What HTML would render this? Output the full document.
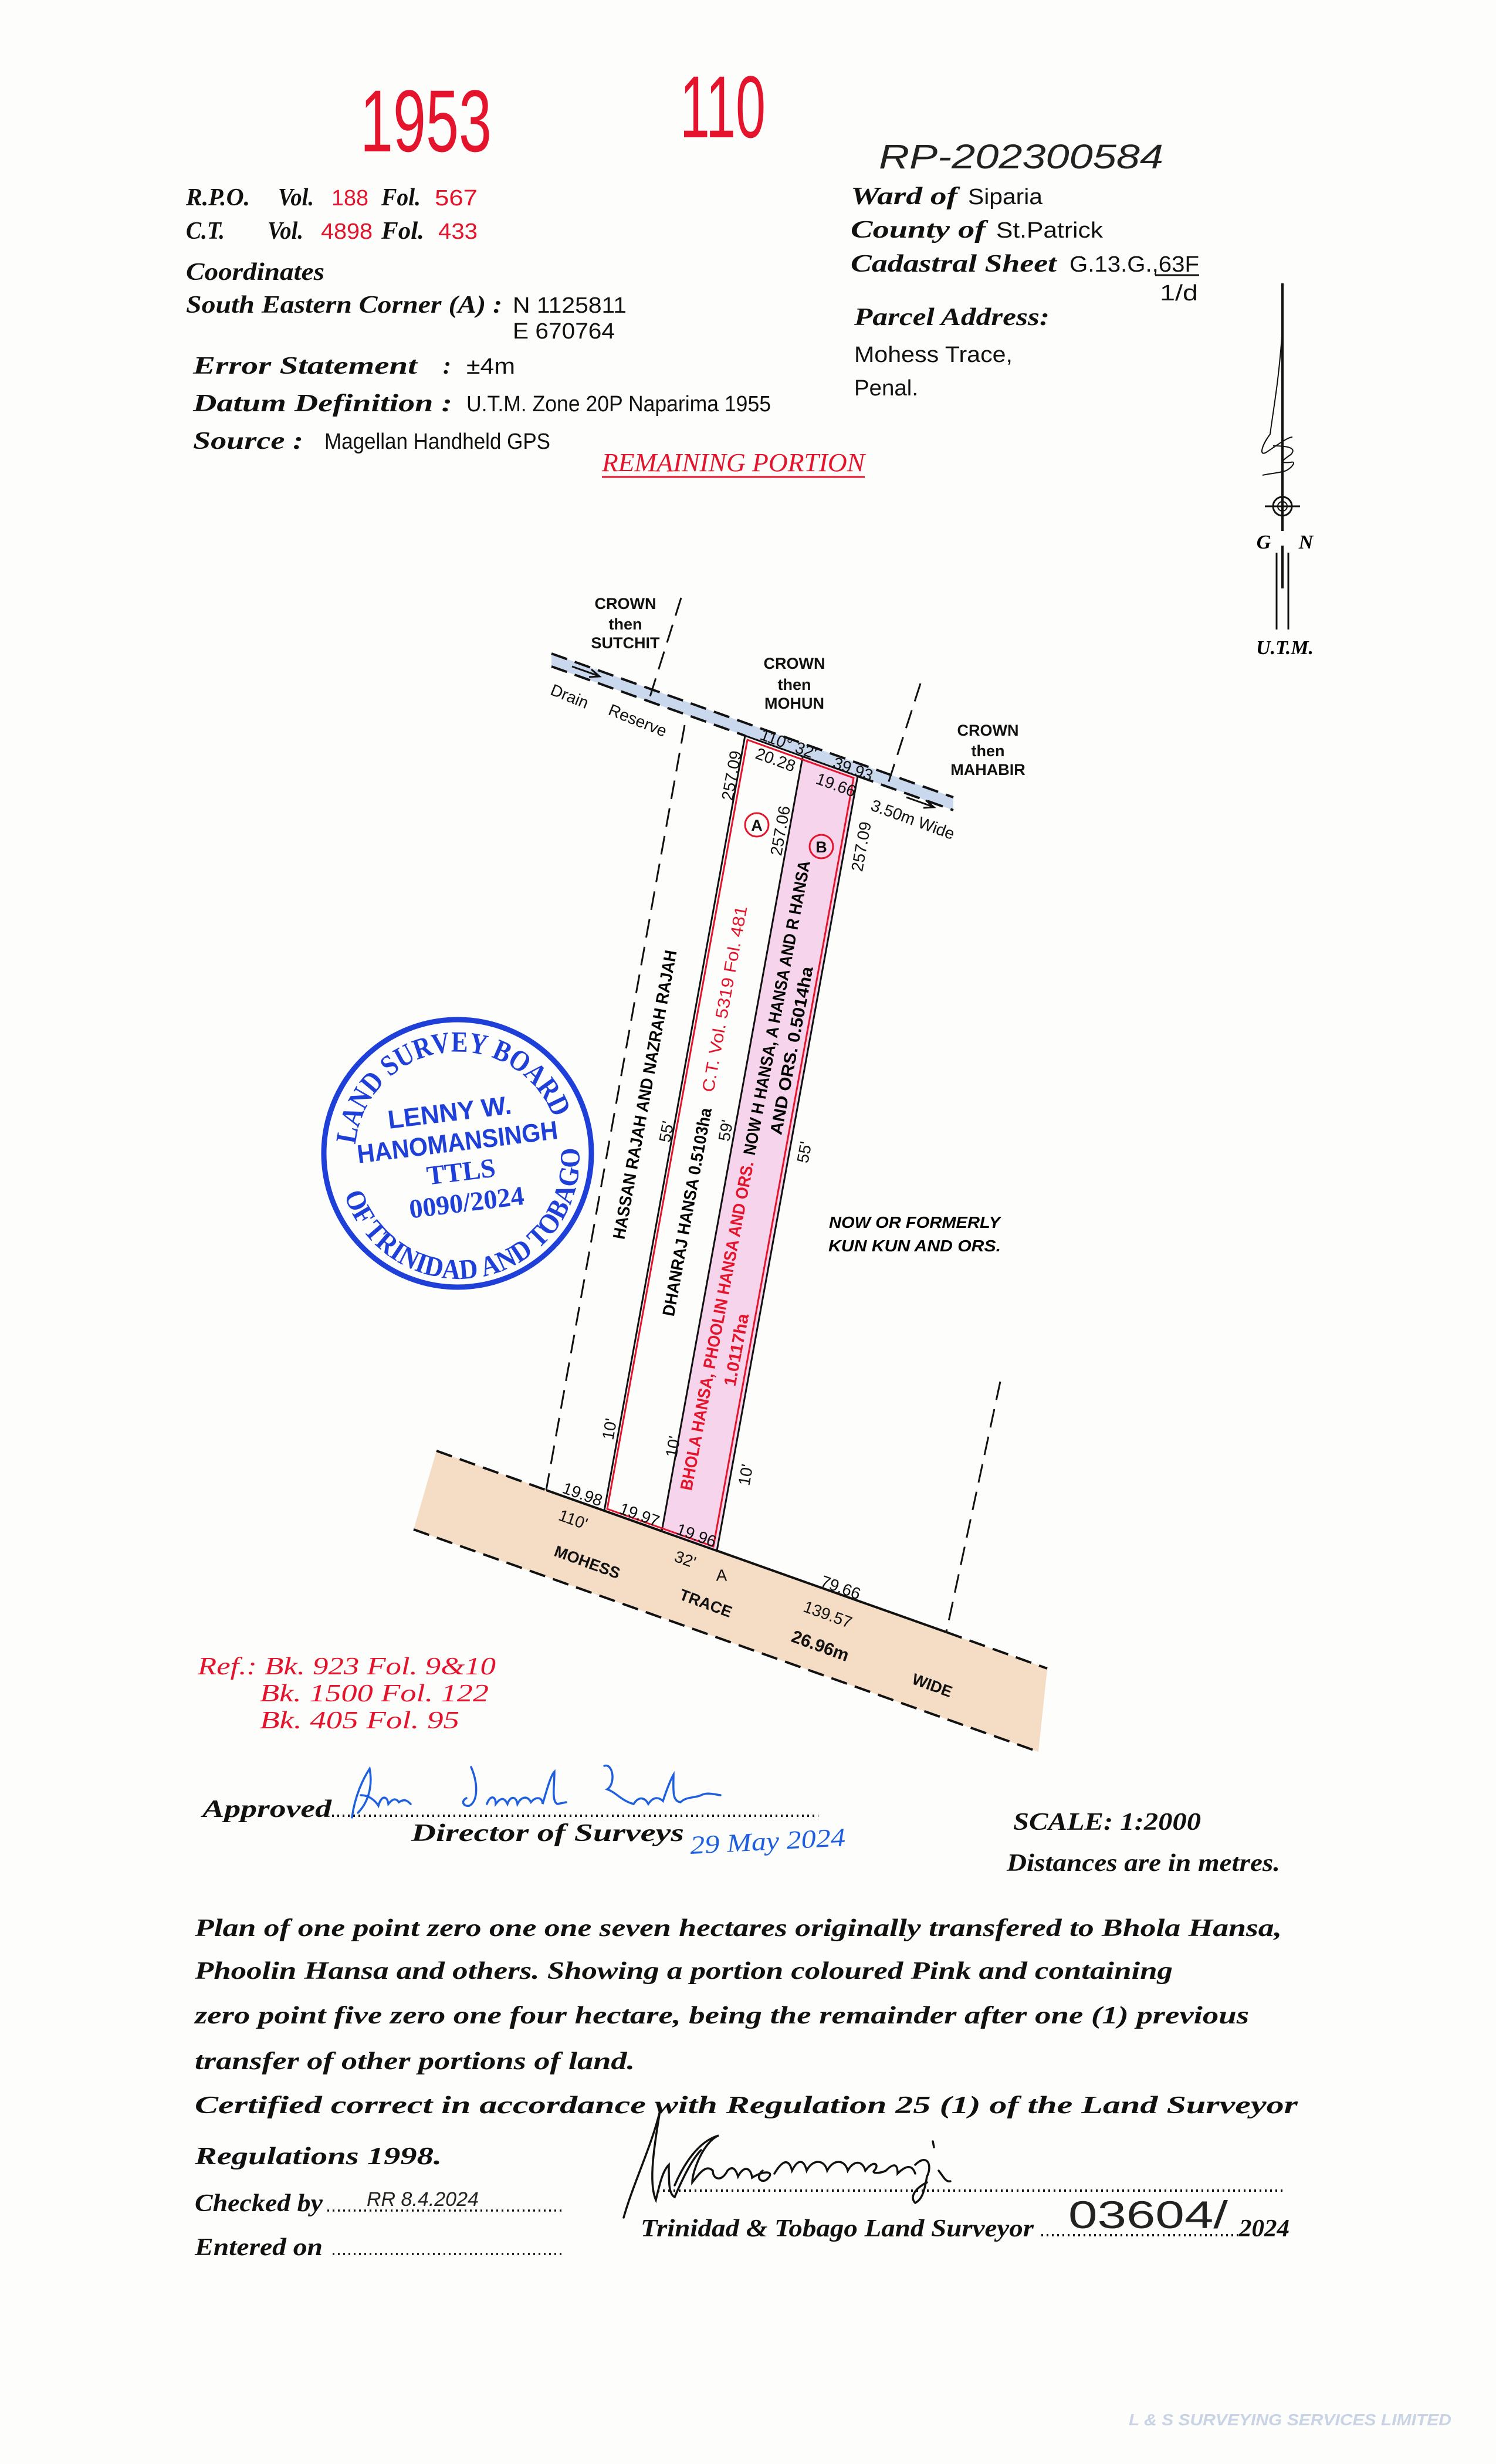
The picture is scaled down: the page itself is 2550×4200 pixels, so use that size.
<!DOCTYPE html>
<html><head><meta charset="utf-8"><style>
html,body{margin:0;padding:0;background:#fdfdfb}
svg{display:block}
.lb{font-family:"Liberation Serif",serif;font-style:italic;font-weight:bold;font-size:42px;fill:#111}
.vl{font-family:"Liberation Sans",sans-serif;font-size:38px;fill:#111}
.rd{fill:#e3142c}
.dl{font-family:"Liberation Sans",sans-serif;font-weight:bold;font-size:27px;fill:#111}
.dn{font-family:"Liberation Sans",sans-serif;font-size:28px;fill:#111}
.ft{font-family:"Liberation Serif",serif;font-style:italic;font-weight:bold;font-size:42px;fill:#111}
</style></head><body>
<svg width="2550" height="4200" viewBox="0 0 2550 4200" xmlns="http://www.w3.org/2000/svg">
<rect width="2550" height="4200" fill="#fdfdfb"/>

<!-- Big red numbers -->
<text x="614" y="258" class="rd" font-family="Liberation Sans, sans-serif" font-size="150" textLength="224" lengthAdjust="spacingAndGlyphs">1953</text>
<text x="1159" y="234" class="rd" font-family="Liberation Sans, sans-serif" font-size="150" textLength="146" lengthAdjust="spacingAndGlyphs">110</text>
<text x="1498" y="287" font-family="Liberation Sans, sans-serif" font-style="italic" font-size="58" fill="#222" textLength="485" lengthAdjust="spacingAndGlyphs">RP-202300584</text>

<!-- Left header -->
<text x="317" y="350" class="lb" textLength="109" lengthAdjust="spacingAndGlyphs">R.P.O.</text>
<text x="474" y="350" class="lb" textLength="61" lengthAdjust="spacingAndGlyphs">Vol.</text>
<text x="565" y="350" class="vl rd" textLength="63" lengthAdjust="spacingAndGlyphs">188</text>
<text x="650" y="350" class="lb" textLength="67" lengthAdjust="spacingAndGlyphs">Fol.</text>
<text x="741" y="350" class="vl rd" textLength="73" lengthAdjust="spacingAndGlyphs">567</text>

<text x="317" y="407" class="lb" textLength="66" lengthAdjust="spacingAndGlyphs">C.T.</text>
<text x="456" y="407" class="lb" textLength="61" lengthAdjust="spacingAndGlyphs">Vol.</text>
<text x="547" y="407" class="vl rd" textLength="88" lengthAdjust="spacingAndGlyphs">4898</text>
<text x="650" y="407" class="lb" textLength="73" lengthAdjust="spacingAndGlyphs">Fol.</text>
<text x="747" y="407" class="vl rd" textLength="67" lengthAdjust="spacingAndGlyphs">433</text>

<text x="317" y="477" class="lb" textLength="236" lengthAdjust="spacingAndGlyphs">Coordinates</text>
<text x="317" y="533" class="lb" textLength="539" lengthAdjust="spacingAndGlyphs">South Eastern Corner (A) :</text>
<text x="874" y="533" class="vl" textLength="194" lengthAdjust="spacingAndGlyphs">N 1125811</text>
<text x="874" y="577" class="vl" textLength="174" lengthAdjust="spacingAndGlyphs">E 670764</text>
<text x="329" y="637" class="lb" textLength="382" lengthAdjust="spacingAndGlyphs">Error Statement</text>
<text x="755" y="637" class="lb">:</text>
<text x="795" y="637" class="vl" textLength="83" lengthAdjust="spacingAndGlyphs">±4m</text>
<text x="329" y="701" class="lb" textLength="442" lengthAdjust="spacingAndGlyphs">Datum Definition :</text>
<text x="795" y="701" class="vl" textLength="519" lengthAdjust="spacingAndGlyphs">U.T.M. Zone 20P Naparima 1955</text>
<text x="329" y="765" class="lb" textLength="188" lengthAdjust="spacingAndGlyphs">Source :</text>
<text x="553" y="765" class="vl" textLength="385" lengthAdjust="spacingAndGlyphs">Magellan Handheld GPS</text>
<text x="1026" y="803" font-family="Liberation Serif, serif" font-style="italic" font-size="44" class="rd" textLength="448" lengthAdjust="spacingAndGlyphs">REMAINING PORTION</text>
<line x1="1026" y1="813" x2="1474" y2="813" stroke="#e3142c" stroke-width="3"/>

<!-- Right header -->
<text x="1450" y="348" class="lb" textLength="182" lengthAdjust="spacingAndGlyphs">Ward of</text>
<text x="1650" y="348" class="vl" textLength="127" lengthAdjust="spacingAndGlyphs">Siparia</text>
<text x="1450" y="405" class="lb" textLength="230" lengthAdjust="spacingAndGlyphs">County of</text>
<text x="1698" y="405" class="vl" textLength="182" lengthAdjust="spacingAndGlyphs">St.Patrick</text>
<text x="1450" y="463" class="lb" textLength="351" lengthAdjust="spacingAndGlyphs">Cadastral Sheet</text>
<text x="1823" y="463" class="vl" textLength="221" lengthAdjust="spacingAndGlyphs">G.13.G.,63F</text>
<line x1="1969" y1="469" x2="2044" y2="469" stroke="#111" stroke-width="3"/>
<text x="1977" y="512" class="vl" textLength="65" lengthAdjust="spacingAndGlyphs">1/d</text>
<text x="1456" y="554" class="lb" textLength="333" lengthAdjust="spacingAndGlyphs">Parcel Address:</text>
<text x="1456" y="617" class="vl" textLength="270" lengthAdjust="spacingAndGlyphs">Mohess Trace,</text>
<text x="1456" y="674" class="vl" textLength="109" lengthAdjust="spacingAndGlyphs">Penal.</text>

<!-- North arrow -->
<g stroke="#111" fill="none">
<line x1="2186" y1="483" x2="2186" y2="905" stroke-width="4"/>
<path d="M2186 560 C2180 650 2170 700 2165 740 C2150 760 2145 780 2160 770 C2175 760 2195 745 2203 745 M2170 760 C2200 760 2210 765 2200 775 C2185 785 2180 790 2200 788 C2212 785 2200 800 2190 803 C2180 806 2160 808 2152 810" stroke-width="2"/>
<circle cx="2186" cy="863" r="16" stroke-width="3"/>
<circle cx="2186" cy="863" r="8" stroke-width="2"/>
<line x1="2156" y1="863" x2="2216" y2="863" stroke-width="3"/>
<line x1="2186" y1="930" x2="2186" y2="1003" stroke-width="4"/>
<line x1="2176" y1="942" x2="2176" y2="1073" stroke-width="3"/>
<line x1="2196" y1="942" x2="2196" y2="1073" stroke-width="3"/>
</g>
<text x="2154" y="935" font-family="Liberation Serif, serif" font-style="italic" font-weight="bold" font-size="34" text-anchor="middle">G</text>
<text x="2226" y="935" font-family="Liberation Serif, serif" font-style="italic" font-weight="bold" font-size="34" text-anchor="middle">N</text>
<text x="2190" y="1115" font-family="Liberation Serif, serif" font-style="italic" font-weight="bold" font-size="34" text-anchor="middle">U.T.M.</text>

<!-- Drain reserve band -->
<polygon points="940,1114 1625,1359 1625,1381 940,1136" fill="#c9d8ec"/>
<g stroke="#111" stroke-width="4" fill="none" stroke-dasharray="28 14">
<line x1="940" y1="1114" x2="1625" y2="1359"/>
<line x1="940" y1="1136" x2="1270" y2="1254"/>
<line x1="1462" y1="1323" x2="1625" y2="1381"/>
</g>
<g stroke="#111" stroke-width="3" fill="none">
<line x1="975" y1="1136" x2="1020" y2="1152"/><path d="M1008 1141 L1022 1153 L1004 1154"/>
<line x1="1545" y1="1359" x2="1590" y2="1375"/><path d="M1578 1364 L1592 1376 L1574 1377"/>
</g>

<!-- Mohess Trace band -->
<polygon points="744,2473 1785,2844 1770,2986 705,2607" fill="#f5dcc5"/>
<g stroke="#111" stroke-width="4" fill="none">
<line x1="744" y1="2473" x2="931" y2="2540" stroke-dasharray="28 14"/>
<line x1="931" y1="2540" x2="1613" y2="2782"/>
<line x1="1613" y1="2782" x2="1785" y2="2844" stroke-dasharray="28 14"/>
<line x1="705" y1="2607" x2="1770" y2="2986" stroke-dasharray="28 14"/>
</g>

<!-- Boundary dashed lines -->
<g stroke="#111" stroke-width="3" fill="none" stroke-dasharray="32 16">
<line x1="1161" y1="1019" x2="1104" y2="1200"/>
<line x1="1167" y1="1236" x2="931" y2="2540"/>
<line x1="1569" y1="1165" x2="1514" y2="1335"/>
<line x1="1705" y1="2355" x2="1613" y2="2782"/>
</g>

<!-- Parcels -->
<polygon points="1368,1291 1462,1323 1222,2643 1128,2610" fill="#f6d5ec"/>
<line x1="1368" y1="1291" x2="1128" y2="2610" stroke="#111" stroke-width="3"/>
<polygon points="1270,1254 1462,1323 1222,2643 1030,2575" fill="none" stroke="#111" stroke-width="3"/>
<polygon points="1274,1261 1455,1326 1216,2636 1035,2572" fill="none" stroke="#e3142c" stroke-width="3"/>
<circle cx="1290" cy="1406" r="20" fill="none" stroke="#e3142c" stroke-width="3"/>
<text x="1290" y="1416" text-anchor="middle" class="dl">A</text>
<circle cx="1400" cy="1443" r="20" fill="none" stroke="#e3142c" stroke-width="3"/>
<text x="1400" y="1453" text-anchor="middle" class="dl">B</text>

<!-- top labels -->
<g class="dl" text-anchor="middle">
<text x="1066" y="1038">CROWN</text><text x="1066" y="1073">then</text><text x="1066" y="1105">SUTCHIT</text>
<text x="1354" y="1140">CROWN</text><text x="1354" y="1176">then</text><text x="1354" y="1208">MOHUN</text>
<text x="1684" y="1254">CROWN</text><text x="1684" y="1289">then</text><text x="1684" y="1321">MAHABIR</text>
</g>
<g class="dn" text-anchor="middle" dominant-baseline="central">
<text transform="translate(971,1187) rotate(22)">Drain</text>
<text transform="translate(1087,1228) rotate(22)">Reserve</text>
<text transform="translate(1344,1268) rotate(20)">110°  32'</text>
<text transform="translate(1322,1295) rotate(20)">20.28</text>
<text transform="translate(1454,1311) rotate(20)">39.93</text>
<text transform="translate(1425,1338) rotate(20)">19.66</text>
<text transform="translate(1556,1397) rotate(20)">3.50m  Wide</text>
<text transform="translate(1247,1322) rotate(-79.7)">257.09</text>
<text transform="translate(1330,1416) rotate(-79.7)">257.06</text>
<text transform="translate(1468,1443) rotate(-79.7)">257.09</text>
<text transform="translate(1136,1929) rotate(-79.7)">55'</text>
<text transform="translate(1237,1927) rotate(-79.7)">59'</text>
<text transform="translate(1371,1964) rotate(-79.7)">55'</text>
<text transform="translate(1039,2436) rotate(-79.7)">10'</text>
<text transform="translate(1147,2466) rotate(-79.7)">10'</text>
<text transform="translate(1271,2514) rotate(-79.7)">10'</text>
<!-- road labels -->
<text transform="translate(993,2547) rotate(20)">19.98</text>
<text transform="translate(977,2590) rotate(20)">110'</text>
<text transform="translate(1090,2582) rotate(20)">19.97</text>
<text transform="translate(1187,2617) rotate(20)">19.96</text>
<text transform="translate(1168,2658) rotate(20)">32'</text>
<text x="1230" y="2685">A</text>
<text transform="translate(1433,2706) rotate(20)">79.66</text>
<text transform="translate(1411,2752) rotate(20)">139.57</text>
</g>
<g class="dl" text-anchor="middle" dominant-baseline="central">
<text transform="translate(1001,2663) rotate(20)">MOHESS</text>
<text transform="translate(1203,2733) rotate(20)">TRACE</text>
<text transform="translate(1398,2806) rotate(20)" font-size="30">26.96m</text>
<text transform="translate(1589,2873) rotate(20)">WIDE</text>
</g>

<!-- long parcel labels -->
<g font-family="Liberation Sans, sans-serif" font-size="29" dominant-baseline="central" text-anchor="middle">
<text transform="translate(1100,1866) rotate(-79.7)" font-weight="bold" textLength="500" lengthAdjust="spacingAndGlyphs">HASSAN RAJAH AND NAZRAH RAJAH</text>
<text transform="translate(1172,2066) rotate(-79.7)" font-weight="bold" textLength="360" lengthAdjust="spacingAndGlyphs">DHANRAJ HANSA  0.5103ha</text>
<text transform="translate(1236,1703) rotate(-79.7)" fill="#e3142c" textLength="322" lengthAdjust="spacingAndGlyphs">C.T. Vol. 5319 Fol. 481</text>
<text transform="translate(1223,2260) rotate(-79.3)" font-weight="bold" fill="#e3142c" textLength="570" lengthAdjust="spacingAndGlyphs">BHOLA HANSA, PHOOLIN HANSA AND ORS.</text>
<text transform="translate(1325,1718) rotate(-79.3)" font-weight="bold" textLength="510" lengthAdjust="spacingAndGlyphs">NOW H HANSA, A HANSA AND R HANSA</text>
<text transform="translate(1256,2301) rotate(-79.3)" font-weight="bold" fill="#e3142c" textLength="125" lengthAdjust="spacingAndGlyphs">1.0117ha</text>
<text transform="translate(1350,1791) rotate(-79.3)" font-weight="bold" textLength="291" lengthAdjust="spacingAndGlyphs">AND ORS.  0.5014ha</text>
</g>
<g font-family="Liberation Sans, sans-serif" font-weight="bold" font-style="italic" font-size="28" text-anchor="middle">
<text x="1559" y="2093" textLength="292" lengthAdjust="spacingAndGlyphs">NOW OR FORMERLY</text>
<text x="1559" y="2133" textLength="294" lengthAdjust="spacingAndGlyphs">KUN KUN AND ORS.</text>
</g>

<!-- Stamp -->
<g fill="#1e3fd8" stroke="none">
<circle cx="780" cy="1966" r="228" fill="none" stroke="#1e3fd8" stroke-width="9"/>
<path id="arcTop" d="M 606 1951 A 175 175 0 0 1 944 1906" fill="none"/>
<path id="arcBot" d="M 587 2036 A 205 205 0 0 0 981 1923" fill="none"/>
<text font-family="Liberation Serif, serif" font-weight="bold" font-size="50"><textPath href="#arcTop" textLength="470" lengthAdjust="spacingAndGlyphs">LAND SURVEY BOARD</textPath></text>
<text font-family="Liberation Serif, serif" font-weight="bold" font-size="48"><textPath href="#arcBot" textLength="600" lengthAdjust="spacingAndGlyphs">OF TRINIDAD AND TOBAGO</textPath></text>
<g font-family="Liberation Sans, sans-serif" font-weight="bold" text-anchor="middle" transform="rotate(-7 780 1966)">
<text x="775" y="1910" font-size="44">LENNY W.</text>
<text x="782" y="1962" font-size="44" textLength="344" lengthAdjust="spacingAndGlyphs">HANOMANSINGH</text>
<text x="782" y="2013" font-family="Liberation Serif, serif" font-size="46">TTLS</text>
<text x="785" y="2066" font-family="Liberation Serif, serif" font-size="46">0090/2024</text>
</g>
</g>

<!-- Refs -->
<g font-family="Liberation Serif, serif" font-style="italic" font-size="42" fill="#e3142c">
<text x="337" y="2854" textLength="508" lengthAdjust="spacingAndGlyphs">Ref.: Bk. 923 Fol. 9&amp;10</text>
<text x="443" y="2900" textLength="390" lengthAdjust="spacingAndGlyphs">Bk. 1500 Fol. 122</text>
<text x="443" y="2946" textLength="340" lengthAdjust="spacingAndGlyphs">Bk. 405 Fol. 95</text>
</g>

<!-- Approved -->
<text x="345" y="3097" class="ft" textLength="220" lengthAdjust="spacingAndGlyphs">Approved</text>
<line x1="566" y1="3095" x2="1395" y2="3095" stroke="#111" stroke-width="4" stroke-dasharray="3 6"/>
<text x="701" y="3138" class="ft" textLength="465" lengthAdjust="spacingAndGlyphs">Director of Surveys</text>
<g stroke="#1e5fe0" stroke-width="3.5" fill="none" stroke-linecap="round">
<path d="M600 3098 C605 3060 620 3030 630 3015 C635 3040 630 3070 610 3090 M615 3060 C630 3060 640 3070 645 3078 C650 3060 660 3060 662 3075 C670 3065 675 3065 680 3072 C690 3065 695 3070 700 3075"/>
<path d="M803 3012 C815 3040 815 3070 800 3078 C790 3080 785 3070 795 3065 M830 3075 C835 3060 845 3060 845 3075 C855 3062 860 3065 865 3075 C870 3060 880 3062 882 3075 C890 3060 900 3062 905 3072 C915 3060 925 3065 925 3075 C935 3040 940 3025 945 3020 C945 3045 940 3070 950 3075 L965 3072"/>
<path d="M1030 3010 C1045 3005 1050 3040 1035 3050 C1050 3055 1060 3070 1080 3075 C1090 3060 1100 3065 1105 3075 C1115 3060 1125 3065 1130 3070 C1140 3040 1145 3030 1148 3025 C1148 3050 1145 3070 1160 3072 C1170 3062 1185 3065 1195 3060 C1205 3055 1215 3058 1228 3060"/>
</g>
<text x="1177" y="3160" font-family="Liberation Serif, serif" font-style="italic" font-size="44" fill="#1e5fe0" transform="rotate(-3 1177 3160)" textLength="265" lengthAdjust="spacingAndGlyphs">29 May 2024</text>

<text x="1727" y="3119" class="ft" textLength="320" lengthAdjust="spacingAndGlyphs" font-size="46">SCALE:  1:2000</text>
<text x="1716" y="3189" class="ft" textLength="466" lengthAdjust="spacingAndGlyphs">Distances are in metres.</text>

<!-- Paragraph -->
<text x="332" y="3300" class="ft" textLength="1853" lengthAdjust="spacingAndGlyphs">Plan of one point zero one one seven hectares originally transfered to Bhola Hansa,</text>
<text x="332" y="3373" class="ft" textLength="1667" lengthAdjust="spacingAndGlyphs">Phoolin Hansa and others. Showing a portion coloured Pink and containing</text>
<text x="332" y="3449" class="ft" textLength="1797" lengthAdjust="spacingAndGlyphs">zero point five zero one four hectare, being the remainder after one (1) previous</text>
<text x="332" y="3527" class="ft" textLength="750" lengthAdjust="spacingAndGlyphs">transfer of other portions of land.</text>
<text x="332" y="3602" class="ft" textLength="1880" lengthAdjust="spacingAndGlyphs" font-size="44">Certified correct in accordance with Regulation 25 (1) of the Land Surveyor</text>
<text x="332" y="3689" class="ft" textLength="421" lengthAdjust="spacingAndGlyphs" font-size="44">Regulations 1998.</text>

<text x="332" y="3769" class="ft" textLength="218" lengthAdjust="spacingAndGlyphs" font-size="40">Checked by</text>
<line x1="558" y1="3768" x2="958" y2="3768" stroke="#111" stroke-width="3.5" stroke-dasharray="3 6"/>
<text x="625" y="3760" font-family="Liberation Sans, sans-serif" font-style="italic" font-size="34" fill="#222">RR 8.4.2024</text>
<text x="332" y="3844" class="ft" textLength="218" lengthAdjust="spacingAndGlyphs" font-size="40">Entered on</text>
<line x1="567" y1="3842" x2="958" y2="3842" stroke="#111" stroke-width="3.5" stroke-dasharray="3 6"/>

<line x1="1112" y1="3734" x2="2188" y2="3734" stroke="#111" stroke-width="4" stroke-dasharray="3 6"/>
<text x="1092" y="3812" class="ft" textLength="670" lengthAdjust="spacingAndGlyphs" font-size="40">Trinidad &amp; Tobago Land Surveyor</text>
<line x1="1775" y1="3810" x2="2112" y2="3810" stroke="#111" stroke-width="4" stroke-dasharray="3 6"/>
<text x="2112" y="3812" class="ft" textLength="86" lengthAdjust="spacingAndGlyphs" font-size="40">2024</text>
<text x="1821" y="3798" font-family="Liberation Sans, sans-serif" font-size="66" fill="#222" textLength="272" lengthAdjust="spacingAndGlyphs">03604/</text>
<g stroke="#111" stroke-width="3.5" fill="none" stroke-linecap="round">
<path d="M1063 3780 C1080 3720 1110 3660 1125 3598 C1115 3660 1105 3720 1118 3750 C1125 3720 1130 3700 1140 3690 C1140 3720 1140 3740 1150 3745 C1165 3710 1180 3680 1195 3665"/>
<path d="M1150 3725 C1165 3690 1190 3650 1225 3640 C1200 3650 1180 3700 1180 3720 C1195 3700 1205 3690 1215 3700 C1215 3715 1230 3720 1240 3700 C1250 3690 1255 3700 1258 3710 C1268 3690 1280 3695 1282 3712 C1300 3700 1320 3700 1310 3712 C1300 3725 1285 3712 1300 3700"/>
<path d="M1320 3705 C1335 3680 1345 3680 1350 3700 C1360 3680 1370 3680 1375 3700 C1385 3680 1405 3680 1410 3700 C1420 3680 1440 3680 1445 3700 C1455 3682 1470 3682 1475 3700 C1490 3680 1500 3690 1490 3700 C1485 3705 1500 3705 1510 3700 C1525 3685 1530 3690 1530 3705 C1545 3690 1555 3690 1560 3705"/>
<path d="M1560 3690 C1580 3670 1590 3690 1580 3710 C1575 3740 1570 3750 1560 3755 C1550 3745 1560 3730 1580 3720 M1590 3650 L1592 3660 M1600 3700 C1608 3710 1612 3720 1620 3718"/>
</g>

<text x="1924" y="4134" font-family="Liberation Sans, sans-serif" font-style="italic" font-weight="bold" font-size="28" fill="#c9d3e6" textLength="550" lengthAdjust="spacingAndGlyphs">L &amp; S SURVEYING SERVICES LIMITED</text>
</svg>
</body></html>
